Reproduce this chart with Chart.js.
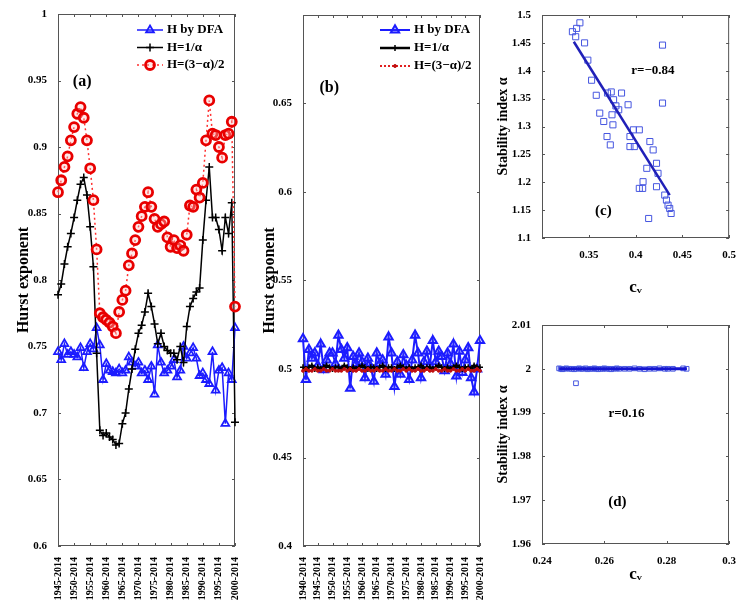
<!DOCTYPE html>
<html>
<head>
<meta charset="utf-8">
<script src="https://cdn.jsdelivr.net/npm/chart.js@4.4.1/dist/chart.umd.min.js"></script>
<style>
  body { margin: 0; background: #fff; }
  canvas { position: absolute; }
</style>
</head>
<body>
<canvas id="ga" width="250" height="603" style="left:0;top:0"></canvas>
<canvas id="gb" width="245" height="603" style="left:250px;top:0"></canvas>
<canvas id="gc" width="249" height="300" style="left:490px;top:0"></canvas>
<canvas id="gd" width="249" height="303" style="left:490px;top:300px"></canvas>
<script>
// ---- dados painel (a) ----
const anosA = [1945,1946,1947,1948,1949,1950,1951,1952,1953,1954,1955,1956,1957,1958,1959,1960,1961,1962,1963,1964,
  1965,1966,1967,1968,1969,1970,1971,1972,1973,1974,1975,1976,1977,1978,1979,1980,1981,1982,1983,1984,
  1985,1986,1987,1988,1989,1990,1991,1992,1993,1994,1995,1996,1997,1998,1999,2000];
const hDfaA = [0.746,0.740,0.752,0.744,0.746,0.744,0.742,0.749,0.734,0.746,
  0.752,0.748,0.764,0.751,0.725,0.737,0.732,0.731,0.730,0.733,
  0.730,0.732,0.742,0.738,0.735,0.738,0.730,0.732,0.725,0.735,
  0.714,0.751,0.738,0.730,0.732,0.735,0.740,0.727,0.732,0.750,
  0.741,0.745,0.749,0.741,0.728,0.730,0.725,0.722,0.746,0.717,
  0.732,0.734,0.692,0.730,0.725,0.764];
const hInvA = [0.789,0.797,0.812,0.825,0.835,0.847,0.860,0.872,0.877,0.864,
  0.840,0.810,0.745,0.687,0.683,0.685,0.682,0.680,0.676,0.677,
  0.692,0.700,0.718,0.733,0.748,0.760,0.766,0.776,0.790,0.780,
  0.767,0.752,0.760,0.750,0.747,0.745,0.745,0.740,0.750,0.738,
  0.765,0.780,0.786,0.791,0.794,0.830,0.860,0.885,0.847,0.847,
  0.838,0.822,0.847,0.835,0.858,0.693];
const h3aA = [0.866,0.875,0.885,0.893,0.905,0.915,0.925,0.930,0.922,0.905,
  0.884,0.860,0.823,0.775,0.772,0.770,0.768,0.765,0.760,0.776,
  0.785,0.792,0.811,0.820,0.830,0.840,0.848,0.855,0.866,0.855,
  0.846,0.840,0.842,0.844,0.832,0.825,0.830,0.824,0.826,0.822,
  0.834,0.856,0.855,0.868,0.862,0.873,0.905,0.935,0.910,0.909,
  0.900,0.892,0.909,0.910,0.919,0.780];
const rotulosA = ['1945-2014','1950-2014','1955-2014','1960-2014','1965-2014','1970-2014',
  '1975-2014','1980-2014','1985-2014','1990-2014','1995-2014','2000-2014'];
const yTicksA = [0.6,0.65,0.7,0.75,0.8,0.85,0.9,0.95,1];

// ---- dados painel (b) ----
const anosB = [1940,1941,1942,1943,1944,1945,1946,1947,1948,1949,1950,1951,1952,1953,1954,1955,1956,1957,1958,1959,
  1960,1961,1962,1963,1964,1965,1966,1967,1968,1969,1970,1971,1972,1973,1974,1975,1976,1977,1978,1979,
  1980,1981,1982,1983,1984,1985,1986,1987,1988,1989,1990,1991,1992,1993,1994,1995,1996,1997,1998,1999,2000];
const hDfaB = [0.517,0.494,0.511,0.506,0.509,0.502,0.514,0.4995,0.505,0.509,
  0.509,0.503,0.519,0.511,0.506,0.512,0.489,0.507,0.503,0.509,
  0.504,0.495,0.506,0.501,0.493,0.509,0.503,0.505,0.497,0.518,
  0.509,0.490,0.504,0.497,0.508,0.502,0.494,0.505,0.519,0.509,
  0.495,0.504,0.510,0.502,0.516,0.504,0.510,0.507,0.499,0.509,
  0.503,0.514,0.496,0.510,0.498,0.505,0.512,0.495,0.487,0.500,
  0.516];
const hInvB = [0.501,0.500,0.501,0.502,0.500,0.501,0.500,0.501,0.502,0.501,
  0.500,0.501,0.501,0.500,0.502,0.501,0.500,0.501,0.500,0.501,
  0.502,0.501,0.500,0.501,0.501,0.500,0.501,0.502,0.500,0.501,
  0.501,0.500,0.501,0.502,0.501,0.500,0.501,0.500,0.501,0.501,
  0.502,0.500,0.501,0.501,0.500,0.501,0.502,0.501,0.500,0.501,
  0.500,0.501,0.502,0.501,0.500,0.501,0.501,0.500,0.502,0.501,
  0.501];
const h3aB = [0.499,0.500,0.499,0.499,0.500,0.499,0.499,0.500,0.499,0.499,
  0.500,0.499,0.499,0.499,0.500,0.499,0.500,0.499,0.499,0.500,
  0.499,0.499,0.500,0.499,0.499,0.500,0.499,0.499,0.500,0.499,
  0.499,0.500,0.499,0.499,0.500,0.499,0.500,0.499,0.499,0.500,
  0.499,0.499,0.500,0.499,0.499,0.500,0.499,0.499,0.500,0.499,
  0.499,0.500,0.499,0.499,0.500,0.499,0.500,0.499,0.499,0.500,
  0.499];
const rotulosB = ['1940-2014','1945-2014','1950-2014','1955-2014','1960-2014','1965-2014','1970-2014',
  '1975-2014','1980-2014','1985-2014','1990-2014','1995-2014','2000-2014'];
const yTicksB = [0.4,0.45,0.5,0.55,0.6,0.65,0.7];

// ---- dados painel (c) ----
const cvC = [0.3325,0.337,0.3405,0.336,0.3455,0.349,0.353,0.358,0.3617,0.366,
  0.370,0.374,0.3765,0.3695,0.373,0.3748,0.3758,0.385,0.392,0.394,
  0.394,0.3977,0.3987,0.404,0.408,0.4076,0.404,0.412,0.414,0.4153,
  0.4188,0.4224,0.424,0.4224,0.4288,0.4288,0.4312,0.433,0.4347,0.4365,
  0.438,0.382,0.379];
const alfaC = [1.470,1.476,1.486,1.461,1.450,1.419,1.383,1.356,1.324,1.309,
  1.360,1.362,1.348,1.282,1.267,1.321,1.303,1.360,1.339,1.282,
  1.264,1.294,1.264,1.294,1.201,1.189,1.189,1.225,1.135,1.273,
  1.258,1.234,1.216,1.192,1.446,1.342,1.177,1.168,1.159,1.153,
  1.144,1.330,1.337];
const ajusteCvC = [0.334, 0.4365];
const ajusteAlfaC = [1.452, 1.177];
const xTicksC = [0.3,0.35,0.4,0.45,0.5];
const yTicksC = [1.1,1.15,1.2,1.25,1.3,1.35,1.4,1.45,1.5];

// ---- dados painel (d) ----
const cvD = [0.2455,0.2460,0.2465,0.2471,0.2478,0.2487,0.2495,0.2503,0.2510,0.2519,
  0.2525,0.2530,0.2540,0.2546,0.2555,0.2562,0.2568,0.2573,0.2580,0.2589,
  0.2595,0.2600,0.2607,0.2616,0.2622,0.2632,0.2640,0.2648,0.2665,0.2681,
  0.2697,0.2713,0.2729,0.2745,0.2761,0.2777,0.2794,0.2804,0.2820,0.2853,
  0.2864,0.2509];
const alfaD = [2.0001,2.0000,1.9999,2.0000,2.0001,2.0000,2.0000,1.9999,2.0000,2.0001,
  2.0000,2.0000,2.0001,1.9999,2.0000,2.0000,2.0001,2.0000,1.9999,2.0000,
  2.0000,2.0001,2.0000,2.0000,1.9999,2.0000,2.0001,2.0000,2.0000,2.0000,
  2.0001,2.0000,1.9999,2.0000,2.0000,2.0001,2.0000,2.0000,2.0000,2.0001,
  2.0000,1.9967];
const ajusteCvD = [0.2455, 0.2865];
const ajusteAlfaD = [2.0, 2.0];
const xTicksD = [0.24,0.26,0.28,0.3];
const yTicksD = [1.96,1.97,1.98,1.99,2,2.01];

const SERIF = "'Liberation Serif', 'DejaVu Serif', serif";
Chart.defaults.font.family = SERIF;
Chart.defaults.font.weight = 'bold';
Chart.defaults.color = '#000';
Chart.defaults.animation = false;

const fmt = v => String(+Number(v).toFixed(3));
const pares = (xs, ys) => xs.map((x, i) => ({ x: x, y: ys[i] }));

// moldura com ticks para dentro (estilo matlab)
const moldura = {
  id: 'moldura',
  beforeDatasetsDraw(chart) {
    const { ctx, chartArea: a, scales } = chart;
    ctx.save();
    ctx.strokeStyle = '#555';
    ctx.lineWidth = 1;
    ctx.strokeRect(a.left + 0.5, a.top + 0.5, a.right - a.left - 1, a.bottom - a.top - 1);
    ctx.beginPath();
    scales.x.ticks.forEach(t => {
      const px = Math.round(scales.x.getPixelForValue(t.value)) + 0.5;
      ctx.moveTo(px, a.bottom); ctx.lineTo(px, a.bottom - 3);
      ctx.moveTo(px, a.top); ctx.lineTo(px, a.top + 3);
    });
    scales.y.ticks.forEach(t => {
      const py = Math.round(scales.y.getPixelForValue(t.value)) + 0.5;
      ctx.moveTo(a.left, py); ctx.lineTo(a.left + 3, py);
      ctx.moveTo(a.right, py); ctx.lineTo(a.right - 3, py);
    });
    ctx.stroke();
    ctx.restore();
  }
};

function legenda(x, y, dy, len) {
  return {
    id: 'legenda',
    afterDraw(chart) {
      const ctx = chart.ctx;
      chart.data.datasets.forEach((ds, i) => {
        const yy = y + i * dy;
        ctx.save();
        ctx.strokeStyle = ds.borderColor;
        ctx.lineWidth = ds.borderWidth;
        ctx.setLineDash(ds.borderDash || []);
        ctx.beginPath(); ctx.moveTo(x, yy); ctx.lineTo(x + len, yy); ctx.stroke();
        ctx.setLineDash([]);
        ctx.strokeStyle = ds.pointBorderColor;
        ctx.fillStyle = ds.pointBackgroundColor;
        ctx.lineWidth = ds.pointBorderWidth;
        Chart.helpers.drawPoint(ctx, { pointStyle: ds.pointStyle, radius: ds.pointRadius,
          borderWidth: ds.pointBorderWidth, rotation: 0 }, x + len / 2, yy);
        ctx.fillStyle = '#000';
        ctx.font = 'bold 13px ' + SERIF;
        ctx.textBaseline = 'middle';
        ctx.fillText(ds.label, x + len + 4, yy);
        ctx.restore();
      });
    }
  };
}

// textos no grafico, em coordenadas de dados
function textos(lista) {
  return {
    id: 'textos',
    afterDraw(chart) {
      const ctx = chart.ctx;
      ctx.save();
      ctx.fillStyle = '#000';
      ctx.textAlign = 'center';
      ctx.textBaseline = 'middle';
      lista.forEach(t => {
        ctx.font = t.font;
        ctx.fillText(t.txt, chart.scales.x.getPixelForValue(t.x), chart.scales.y.getPixelForValue(t.y));
      });
      ctx.restore();
    }
  };
}

function eixoX(min, max, valores, rotulos, altura, fonte, extra) {
  return Object.assign({
    type: 'linear', min: min, max: max,
    grid: { display: false }, border: { display: false },
    afterBuildTicks: s => { s.ticks = valores.map(v => ({ value: v })); },
    afterFit: s => { s.height = altura; },
    ticks: { autoSkip: false, font: { size: fonte }, padding: 3,
      callback: (v, i) => rotulos[i] }
  }, extra || {});
}

function eixoY(min, max, valores, rotulos, largura, titulo, tamTitulo) {
  return {
    type: 'linear', min: min, max: max,
    grid: { display: false }, border: { display: false },
    afterBuildTicks: s => { s.ticks = valores.map(v => ({ value: v })); },
    afterFit: s => { s.width = largura; },
    ticks: { font: { size: 11 }, padding: 3, callback: (v, i) => rotulos[i] },
    title: { display: true, text: titulo, font: { size: tamTitulo, weight: 'bold' }, padding: 0 }
  };
}

const AZUL = '#1c1cff';

// ---- (a) ----
new Chart(document.getElementById('ga'), {
  type: 'line',
  data: {
    datasets: [
      { label: 'H by DFA', data: pares(anosA, hDfaA), borderColor: AZUL, borderWidth: 1.5,
        pointStyle: 'triangle', pointRadius: 4.5, pointBorderWidth: 1.8,
        pointBorderColor: AZUL, pointBackgroundColor: 'rgba(255,255,255,0)', order: 3, clip: false },
      { label: 'H=1/α', data: pares(anosA, hInvA), borderColor: '#000', borderWidth: 1.5,
        pointStyle: 'cross', pointRadius: 4, pointBorderWidth: 1.5,
        pointBorderColor: '#000', pointBackgroundColor: '#000', order: 2, clip: false },
      { label: 'H=(3−α)/2', data: pares(anosA, h3aA), borderColor: '#ff3030', borderWidth: 1.5,
        borderDash: [2, 3], pointStyle: 'circle', pointRadius: 4.5, pointBorderWidth: 2.8,
        pointBorderColor: '#e80000', pointBackgroundColor: 'rgba(255,190,190,0.35)', order: 1, clip: false }
    ]
  },
  options: {
    responsive: false, devicePixelRatio: 1,
    layout: { padding: { left: 14, right: 8, top: 14, bottom: 0 } },
    plugins: { legend: { display: false }, tooltip: { enabled: false } },
    scales: {
      x: eixoX(1945, 2000, rotulosA.map(r => parseInt(r)), rotulosA, 57, 10,
        { ticks: { autoSkip: false, font: { size: 10 }, padding: 3, minRotation: 90, maxRotation: 90,
          callback: (v, i) => rotulosA[i] } }),
      y: eixoY(0.6, 1, yTicksA, yTicksA.map(fmt), 44, 'Hurst exponent', 16)
    }
  },
  plugins: [moldura, legenda(137, 30, 17.5, 26),
    textos([{ txt: '(a)', x: 1952.5, y: 0.949, font: 'bold 16px ' + SERIF }])]
});

// ---- (b) ----
new Chart(document.getElementById('gb'), {
  type: 'line',
  data: {
    datasets: [
      { label: 'H by DFA', data: pares(anosB, hDfaB), borderColor: AZUL, borderWidth: 2,
        pointStyle: 'triangle', pointRadius: 4.8, pointBorderWidth: 2,
        pointBorderColor: AZUL, pointBackgroundColor: 'rgba(60,60,255,0.25)', order: 3, clip: false },
      { label: 'H=1/α', data: pares(anosB, hInvB), borderColor: '#000', borderWidth: 2.5,
        pointStyle: 'cross', pointRadius: 3, pointBorderWidth: 1.5,
        pointBorderColor: '#000', pointBackgroundColor: '#000', order: 2, clip: false },
      { label: 'H=(3−α)/2', data: pares(anosB, h3aB), borderColor: '#e02020', borderWidth: 2,
        borderDash: [2, 2], pointStyle: 'circle', pointRadius: 1.5, pointBorderWidth: 1,
        pointBorderColor: '#c01010', pointBackgroundColor: '#c01010', order: 1, clip: false }
    ]
  },
  options: {
    responsive: false, devicePixelRatio: 1,
    layout: { padding: { left: 10, right: 9, top: 15, bottom: 0 } },
    plugins: { legend: { display: false }, tooltip: { enabled: false } },
    scales: {
      x: eixoX(1940, 2000, rotulosB.map(r => parseInt(r)), rotulosB, 57, 10,
        { ticks: { autoSkip: false, font: { size: 10 }, padding: 3, minRotation: 90, maxRotation: 90,
          callback: (v, i) => rotulosB[i] } }),
      y: eixoY(0.4, 0.7, yTicksB, yTicksB.map(v => v >= 0.7 ? '' : fmt(v)), 43, 'Hurst exponent', 16)
    }
  },
  plugins: [moldura, legenda(130, 30, 18, 30),
    textos([{ txt: '(b)', x: 1948.9, y: 0.659, font: 'bold 16px ' + SERIF }])]
});

// ---- (c) ----
new Chart(document.getElementById('gc'), {
  type: 'scatter',
  data: {
    datasets: [
      { data: pares(cvC, alfaC), showLine: false, pointStyle: 'rect', pointRadius: 4.3,
        pointBorderWidth: 1, pointBorderColor: '#4656e0', pointBackgroundColor: 'rgba(255,255,255,0)',
        order: 2, clip: false },
      { data: pares(ajusteCvC, ajusteAlfaC), showLine: true, borderColor: '#2020b8', borderWidth: 2.5,
        pointRadius: 0, order: 1 }
    ]
  },
  options: {
    responsive: false, devicePixelRatio: 1,
    layout: { padding: { left: 5, right: 9, top: 15, bottom: 2 } },
    plugins: { legend: { display: false }, tooltip: { enabled: false } },
    scales: {
      x: eixoX(0.3, 0.5, xTicksC, xTicksC.map(v => v === 0.3 ? '' : fmt(v)), 60, 11,
        { title: { display: true, text: 'cᵥ', font: { size: 17, weight: 'bold' }, padding: 0 } }),
      y: eixoY(1.1, 1.5, yTicksC, yTicksC.map(fmt), 47, 'Stability index α', 14)
    }
  },
  plugins: [moldura, textos([
    { txt: '(c)', x: 0.3656, y: 1.148, font: 'bold 15px ' + SERIF },
    { txt: 'r=−0.84', x: 0.4185, y: 1.401, font: 'bold 13px ' + SERIF }])]
});

// ---- (d) ----
new Chart(document.getElementById('gd'), {
  type: 'scatter',
  data: {
    datasets: [
      { data: pares(cvD, alfaD), showLine: false, pointStyle: 'rect', pointRadius: 3.3,
        pointBorderWidth: 1, pointBorderColor: '#4656e0', pointBackgroundColor: 'rgba(255,255,255,0)',
        order: 2, clip: false },
      { data: pares(ajusteCvD, ajusteAlfaD), showLine: true, borderColor: '#1414d0', borderWidth: 3,
        pointRadius: 0, order: 1, clip: false }
    ]
  },
  options: {
    responsive: false, devicePixelRatio: 1,
    layout: { padding: { left: 5, right: 10, top: 25, bottom: 18 } },
    plugins: { legend: { display: false }, tooltip: { enabled: false } },
    scales: {
      x: eixoX(0.24, 0.3, xTicksD, xTicksD.map(fmt), 41, 11,
        { title: { display: true, text: 'cᵥ', font: { size: 17, weight: 'bold' }, padding: 0 } }),
      y: eixoY(1.96, 2.01, yTicksD, yTicksD.map(fmt), 47, 'Stability index α', 14)
    }
  },
  plugins: [moldura, textos([
    { txt: '(d)', x: 0.2642, y: 1.9695, font: 'bold 15px ' + SERIF },
    { txt: 'r=0.16', x: 0.2671, y: 1.9898, font: 'bold 13px ' + SERIF }])]
});
</script>
</body>
</html>
